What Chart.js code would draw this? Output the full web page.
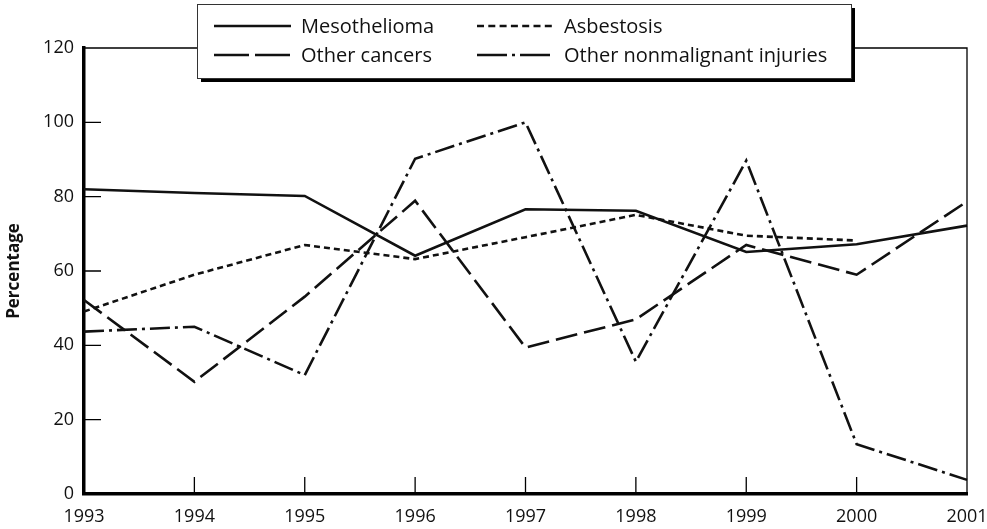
<!DOCTYPE html>
<html>
<head>
<meta charset="utf-8">
<script src="https://cdn.jsdelivr.net/npm/chart.js@4.4.0/dist/chart.umd.min.js"></script>
<style>
  html, body { margin: 0; padding: 0; background: #fff; }
  #wrap { width: 987px; height: 529px; }
</style>
</head>
<body>
<div id="wrap"><canvas id="myChart"></canvas></div>
<script>
// datos
var years = ['1993', '1994', '1995', '1996', '1997', '1998', '1999', '2000', '2001'];
var mesothelioma = [82.0, 81.0, 80.2, 64.1, 76.6, 76.2, 65.1, 67.2, 72.2];
var asbestosis = [49.1, 59.0, 67.0, 63.2, 69.1, 75.1, 69.5, 68.2, null];
var otherCancers = [52.2, 30.2, 53.1, 78.9, 39.4, 47.0, 67.0, 59.0, 78.7];
var otherNonmalignant = [43.7, 45.0, 32.0, 90.2, 100, 35.6, 89.7, 13.4, 3.8];
var yTicks = [0, 20, 40, 60, 80, 100, 120];

var FONT = '"Open Sans", "DejaVu Sans", sans-serif';

function serie(label, values, dash, legendDash) {
    return {
        label: label,
        data: values,
        borderColor: '#111',
        borderWidth: 2.6,
        borderDash: dash,
        legendDash: legendDash,
        borderJoinStyle: 'miter',
        pointRadius: 0,
        tension: 0,
        fill: false,
        spanGaps: false
    };
}

var data = {
    labels: years,
    datasets: [
        serie('Mesothelioma', mesothelioma, [], []),
        serie('Asbestosis', asbestosis, [6, 4], [7, 4.3]),
        serie('Other cancers', otherCancers, [22, 7], [35, 6]),
        serie('Other nonmalignant injuries', otherNonmalignant, [20, 5, 3, 5], [30, 5, 3, 5])
    ]
};

// marco fino, marcas hacia dentro y leyenda con sombra
var frame = {
    id: 'frame',
    afterDraw: function (chart) {
        var ctx = chart.ctx, a = chart.chartArea;
        var xs = chart.scales.x, ys = chart.scales.y;
        ctx.save();
        ctx.strokeStyle = '#000';
        ctx.lineWidth = 1.3;
        ctx.beginPath();
        ctx.moveTo(a.left, a.top);
        ctx.lineTo(a.right, a.top);
        ctx.lineTo(a.right, a.bottom);
        ctx.stroke();

        ctx.beginPath();
        yTicks.forEach(function (v) {
            if (v > 0 && v < 120) {
                var py = ys.getPixelForValue(v);
                ctx.moveTo(a.left, py);
                ctx.lineTo(a.left + 17, py);
            }
        });
        years.forEach(function (yr, i) {
            if (i > 0 && i < years.length - 1) {
                var px = xs.getPixelForValue(i);
                ctx.moveTo(px, a.bottom);
                ctx.lineTo(px, a.bottom - 17);
            }
        });
        ctx.stroke();

        // leyenda
        var bx = 197, by = 4, bw = 654, bh = 74;
        ctx.fillStyle = '#000';
        ctx.fillRect(bx + 4, by + 4, bw, bh);
        ctx.fillStyle = '#fff';
        ctx.fillRect(bx, by, bw, bh);
        ctx.lineWidth = 1;
        ctx.strokeStyle = '#333';
        ctx.strokeRect(bx + 0.5, by + 0.5, bw, bh);

        var spots = [[214, 26], [477, 26], [214, 55], [477, 55]];
        ctx.font = '20px ' + FONT;
        ctx.textBaseline = 'alphabetic';
        ctx.textAlign = 'left';
        chart.data.datasets.forEach(function (ds, i) {
            var p = spots[i];
            ctx.beginPath();
            ctx.setLineDash(ds.legendDash);
            ctx.lineWidth = 2.4;
            ctx.strokeStyle = '#111';
            ctx.moveTo(p[0], p[1]);
            ctx.lineTo(p[0] + 77, p[1]);
            ctx.stroke();
            ctx.setLineDash([]);
            ctx.fillStyle = '#111';
            ctx.fillText(ds.label, p[0] + 87, p[1] + 7);
        });
        ctx.restore();
    }
};

var options = {
    responsive: true,
    maintainAspectRatio: false,
    animation: false,
    layout: { padding: { top: 48, right: 20, left: 0, bottom: 0 } },
    plugins: {
        legend: { display: false },
        tooltip: { enabled: false }
    },
    scales: {
        x: {
            offset: false,
            grid: { display: false, drawTicks: false },
            border: { display: true, width: 3.5, color: '#000' },
            ticks: {
                color: '#111',
                font: { family: FONT, size: 18 },
                padding: 12,
                maxRotation: 0,
                autoSkip: false
            },
            afterFit: function (s) {
                s.height = 35;
                s.paddingLeft = 0;
                s.paddingRight = 0;
            }
        },
        y: {
            min: 0,
            max: 120,
            grid: { display: false, drawTicks: false },
            border: { display: true, width: 3.5, color: '#000' },
            ticks: {
                stepSize: 20,
                color: '#111',
                font: { family: FONT, size: 18 },
                padding: 10
            },
            title: {
                display: true,
                text: 'Percentage',
                color: '#111',
                font: { family: FONT, size: 17, weight: 'bold' },
                padding: { top: 4, bottom: 0 }
            },
            afterFit: function (s) { s.width = 84; }
        }
    }
};

var ctx = document.getElementById('myChart').getContext('2d');
var myChart = new Chart(ctx, {
    type: 'line',
    data: data,
    options: options,
    plugins: [frame]
});
</script>
</body>
</html>
